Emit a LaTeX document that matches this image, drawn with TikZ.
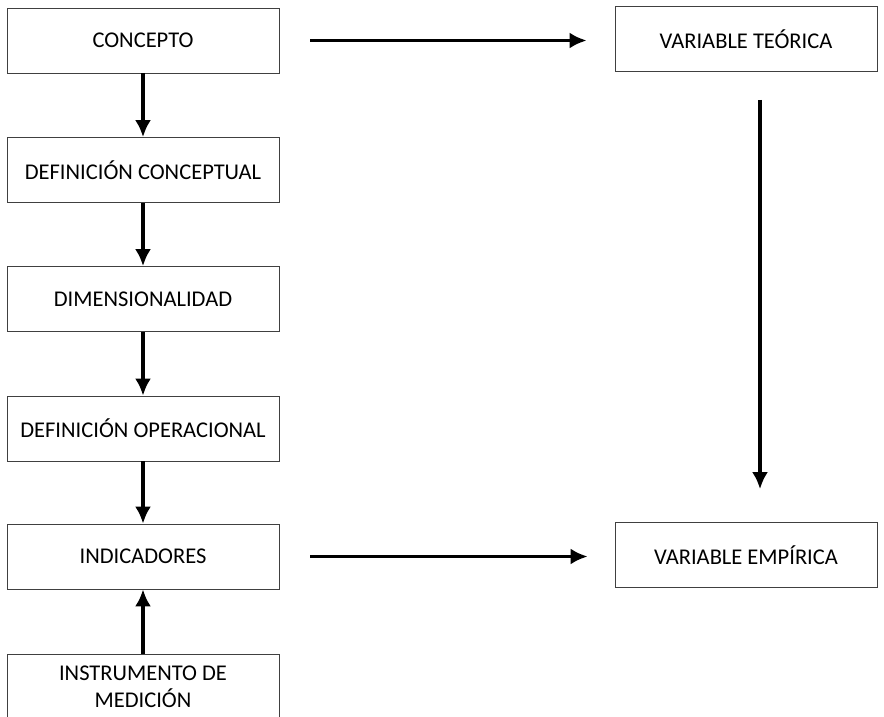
\documentclass[tikz,border=0pt]{standalone}
\usepackage{fontspec}
\setmainfont{Carlito}
\usetikzlibrary{positioning, arrows.meta}

\begin{document}
\begin{tikzpicture}[
    x=1pt, y=-1pt,
    >={Latex[length=17pt, width=16pt]},
    stepbox/.style={rectangle, draw=black!75, line width=0.8pt,
        minimum width=272pt, minimum height=65pt, align=center,
        font=\fontsize{22.5}{27}\selectfont},
    varbox/.style={rectangle, draw=black!75, line width=0.8pt,
        minimum width=262pt, minimum height=65pt, align=center,
        font=\fontsize{22.5}{27}\selectfont},
    link/.style={->, line width=3.2pt}
]

\useasboundingbox (0,0) rectangle (884,717);

\node[stepbox] (concepto) at (143,40.5) {CONCEPTO};
\node[stepbox] (defcon) at (143,170) {DEFINICIÓN CONCEPTUAL};
\node[stepbox] (dimen) at (143,299) {DIMENSIONALIDAD};
\node[stepbox] (defop) at (143,428.5) {DEFINICIÓN OPERACIONAL};
\node[stepbox] (indic) at (143,556.5) {INDICADORES};
\node[stepbox] (instr) at (143,687) {INSTRUMENTO DE\\MEDICIÓN};

\node[varbox] (teorica) at (746,39) {VARIABLE TEÓRICA};
\node[varbox] (empirica) at (746,555) {VARIABLE EMPÍRICA};

\draw[link] (concepto) -- (defcon);
\draw[link] (defcon) -- (dimen);
\draw[link] (dimen) -- (defop);
\draw[link] (defop) -- (indic);
\draw[link] (instr) -- (indic);

\draw[link, shorten <=31pt, shorten >=28pt] (concepto.east) -- (teorica.west |- concepto.east);
\draw[link, shorten <=31pt, shorten >=27pt] (indic.east) -- (empirica.west |- indic.east);
\draw[link, shorten <=28pt, shorten >=33pt] ([xshift=14pt]teorica.south) -- ([xshift=14pt]empirica.north);

\end{tikzpicture}
\end{document}
